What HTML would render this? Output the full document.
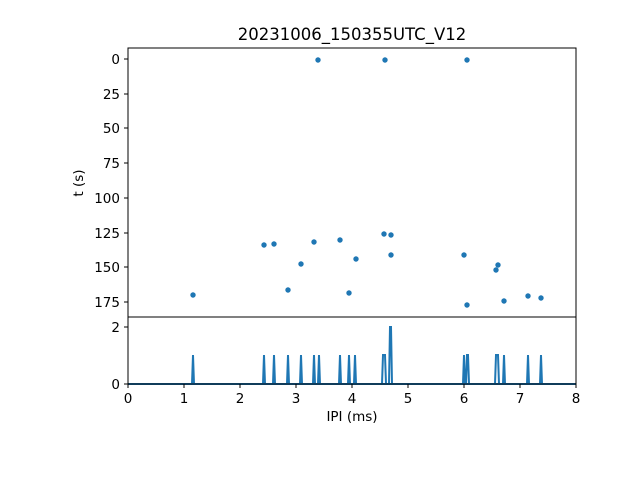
<!DOCTYPE html><html><head><style>body{margin:0;background:#fff}</style></head><body>
<svg width="640" height="480" xmlns="http://www.w3.org/2000/svg" font-family="DejaVu Sans, Liberation Sans, sans-serif">
<rect width="640" height="480" fill="#fff"/>
<text x="352" y="40" font-size="16.5" text-anchor="middle">20231006_150355UTC_V12</text>
<g fill="#1f77b4">
<circle cx="318" cy="60" r="2.7"/><circle cx="385" cy="60" r="2.7"/><circle cx="467" cy="60" r="2.7"/>
<circle cx="264" cy="245" r="2.7"/><circle cx="274" cy="244" r="2.7"/><circle cx="314" cy="242" r="2.7"/>
<circle cx="340" cy="240" r="2.7"/><circle cx="384" cy="234" r="2.7"/><circle cx="391" cy="235" r="2.7"/>
<circle cx="301" cy="264" r="2.7"/><circle cx="356" cy="259" r="2.7"/><circle cx="391" cy="255" r="2.7"/>
<circle cx="464" cy="255" r="2.7"/><circle cx="288" cy="290" r="2.7"/><circle cx="193" cy="295" r="2.7"/>
<circle cx="349" cy="293" r="2.7"/><circle cx="467" cy="305" r="2.7"/><circle cx="496" cy="270" r="2.7"/>
<circle cx="498" cy="265" r="2.7"/><circle cx="504" cy="301" r="2.7"/><circle cx="528" cy="296" r="2.7"/>
<circle cx="541" cy="298" r="2.7"/>
</g>
<g stroke="#1f77b4" stroke-width="2" fill="none">
<line x1="128" y1="384" x2="576" y2="384"/>
<path d="M192,384 L193,355 L194,384 M263,384 L264,355 L265,384 M273,384 L274,355 L275,384 M287,384 L288,355 L289,384 M300,384 L301,355 L302,384 M313,384 L314,355 L315,384 M318,384 L319,355 L320,384 M339,384 L340,355 L341,384 M348,384 L349,355 L350,384 M354,384 L355,355 L356,384 M382,384 L383,355 L385,355 L386,384 M389,384 L390,327 L391,327 L392,384 M463,384 L464,355 L465,384 M466,384 L467,355 L468,355 L469,384 M495,384 L496,355 L498,355 L499,384 M503,384 L504,355 L505,384 M527,384 L528,355 L529,384 M540,384 L541,355 L542,384"/>
</g>
<g stroke="#000" stroke-width="1" fill="none">
<rect x="128" y="48" width="448" height="269"/>
<rect x="128" y="317" width="448" height="67"/>
</g>
<g stroke="#000" stroke-width="1">
<line x1="124" y1="59" x2="128" y2="59"/><line x1="124" y1="94" x2="128" y2="94"/><line x1="124" y1="128" x2="128" y2="128"/><line x1="124" y1="163" x2="128" y2="163"/><line x1="124" y1="198" x2="128" y2="198"/><line x1="124" y1="233" x2="128" y2="233"/><line x1="124" y1="267" x2="128" y2="267"/><line x1="124" y1="302" x2="128" y2="302"/>
<line x1="124" y1="384" x2="128" y2="384"/><line x1="124" y1="327" x2="128" y2="327"/>
<line x1="128" y1="384" x2="128" y2="388"/><line x1="184" y1="384" x2="184" y2="388"/><line x1="240" y1="384" x2="240" y2="388"/><line x1="296" y1="384" x2="296" y2="388"/><line x1="352" y1="384" x2="352" y2="388"/><line x1="408" y1="384" x2="408" y2="388"/><line x1="464" y1="384" x2="464" y2="388"/><line x1="520" y1="384" x2="520" y2="388"/><line x1="576" y1="384" x2="576" y2="388"/>
</g>
<g font-size="13.5" text-anchor="end">
<text x="120" y="64">0</text><text x="120" y="99">25</text><text x="120" y="133">50</text><text x="120" y="168">75</text><text x="120" y="203">100</text><text x="120" y="238">125</text><text x="120" y="272">150</text><text x="120" y="307">175</text>
<text x="120" y="389">0</text><text x="120" y="332">2</text>
</g>
<g font-size="13.5" text-anchor="middle">
<text x="128" y="403">0</text><text x="184" y="403">1</text><text x="240" y="403">2</text><text x="296" y="403">3</text><text x="352" y="403">4</text><text x="408" y="403">5</text><text x="464" y="403">6</text><text x="520" y="403">7</text><text x="576" y="403">8</text>
<text x="352" y="421">IPI (ms)</text>
<text transform="translate(83,183) rotate(-90)">t (s)</text>
</g>
</svg>
</body></html>
